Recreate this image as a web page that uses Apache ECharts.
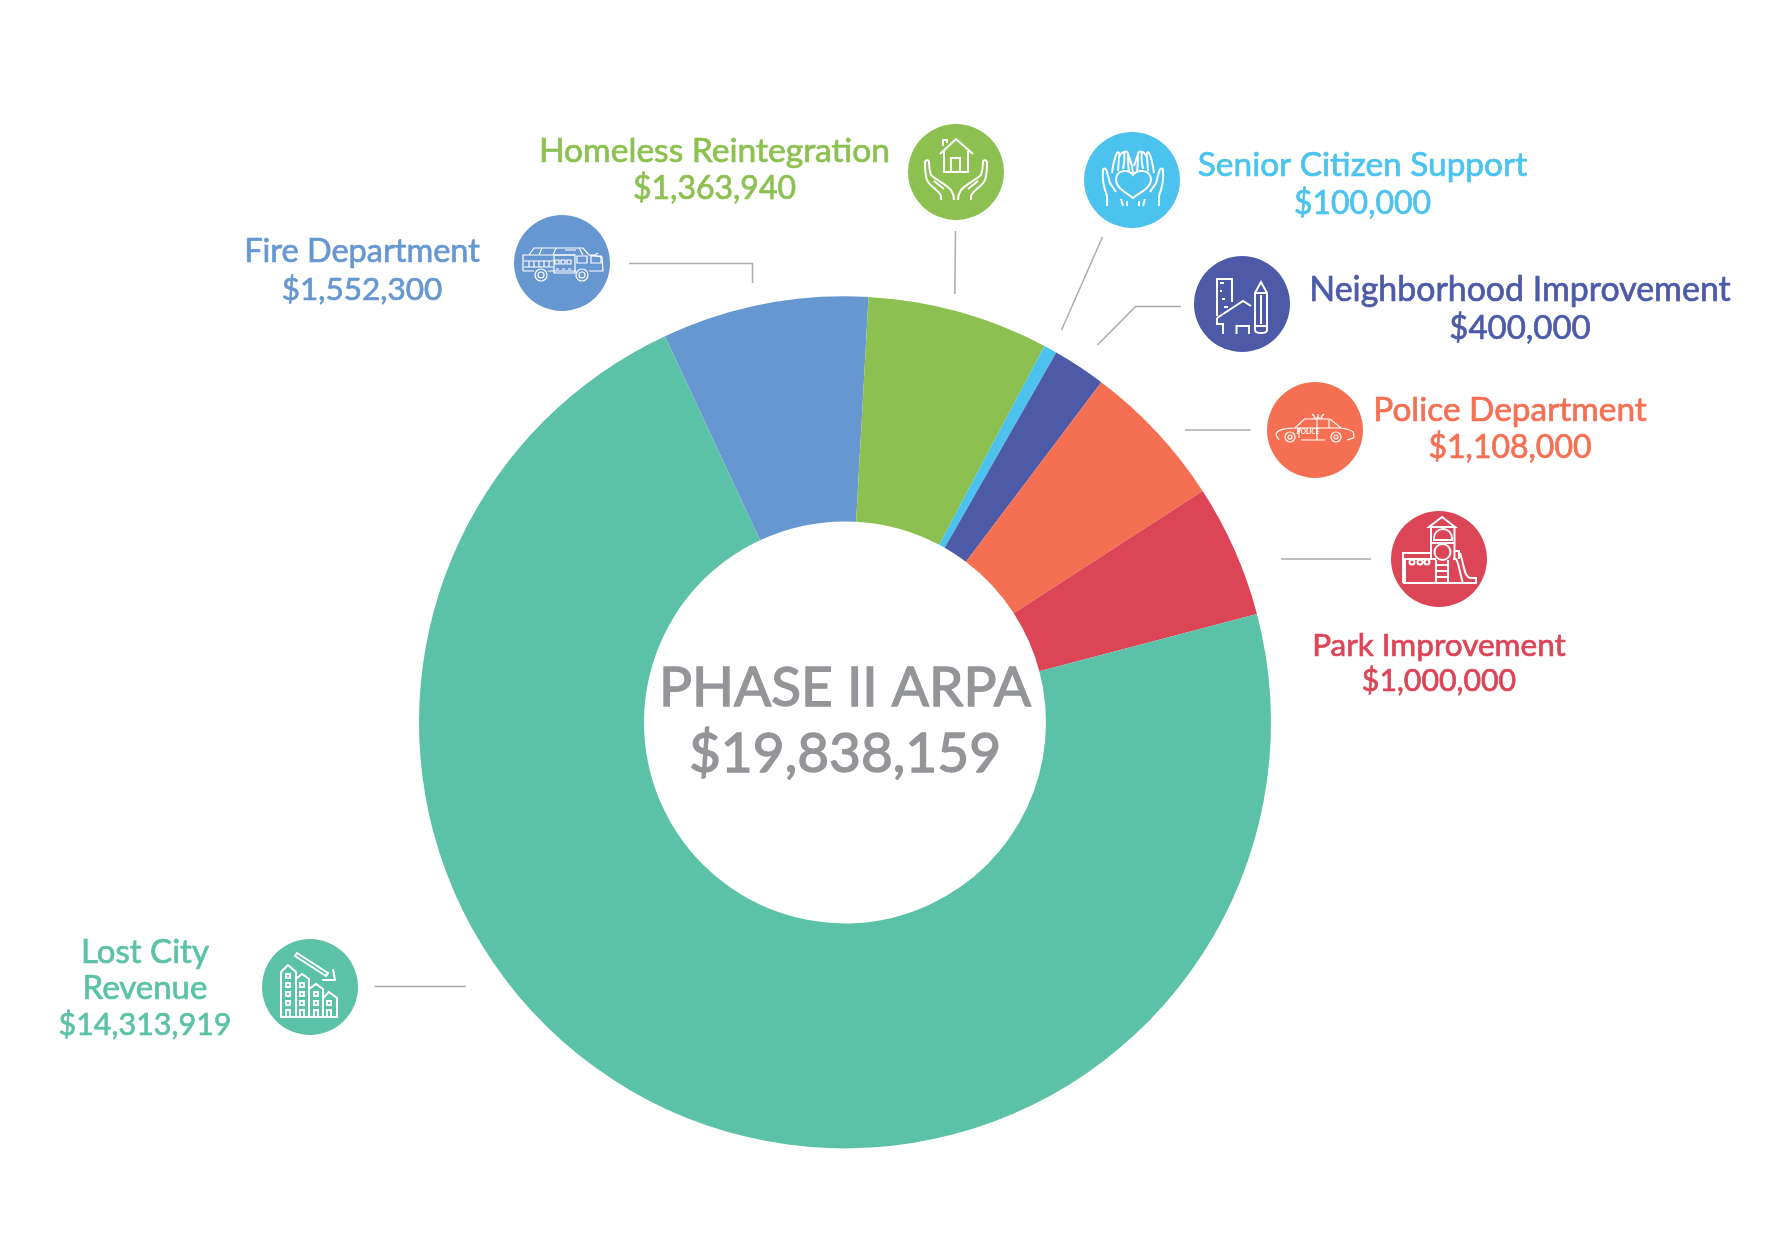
<!DOCTYPE html>
<html>
<head>
<meta charset="utf-8">
<title>Phase II ARPA</title>
<style>
    html, body { margin: 0; padding: 0; background: #fff; }
    #chart { width: 1767px; height: 1250px; }
</style>
<script src="https://cdn.jsdelivr.net/npm/echarts@6/dist/echarts.min.js"></script>
</head>
<body>
<div id="chart"></div>
<script>
// clockwise from the top of the ring
const categories = ['Fire Department', 'Homeless Reintegration', 'Senior Citizen Support', 'Neighborhood Improvement', 'Police Department', 'Park Improvement', 'Lost City Revenue']
const amounts = [1552300, 1363940, 100000, 400000, 1108000, 1000000, 14313919]
const totalTitle = 'PHASE II ARPA'
const totalAmount = 19838159

const sliceColors = ['#6797d1', '#8cc152', '#4bc3ee', '#4d5aa8', '#f56f52', '#dc4556', '#5cc2a7']
const grayText = '#939598'
const grayLine = '#a9abae'
const labelFont = 'Lato, "Open Sans", sans-serif'

// [label x, first line y, name size, amount size, line step, icon x, icon y]
const labelBoxes = [
    [362, 252, 32.5, 31.5, 37.5, 562, 263],
    [714.5, 151.5, 33.6, 32, 37.5, 956, 172],
    [1362.5, 165, 33.4, 32, 38.5, 1132, 180],
    [1520, 290, 33.9, 33, 38.5, 1242, 304],
    [1510, 410, 33.4, 32, 38, 1315, 430],
    [1439, 646, 31.5, 30.3, 35.5, 1439, 559],
    [145, 952, 33, 30.5, 36.5, 310, 987]
]

// leader lines, page pixels
const leaderPaths = [
    'M629,263.5 H752.5 V283',
    'M955.5,231 L954.8,294',
    'M1102.5,237 L1061.5,330',
    'M1181,306.5 H1135.5 L1097.5,345',
    'M1185,430 H1250.5',
    'M1281,559 H1371',
    'M374.5,986.5 H466'
]

// white line icons, pixels relative to the icon centre
const iconPaths = [
    // fire truck
    ['M-39,8 V-8 L-33,-8 L-28,-15 H21 L27,-8 H33 L36,-10 M27,-8 L40,-6 L41,8 H27 M14,8 H-8 M-8,8 H-14 M-28,8 H-39',
        'M-33,-8 H13 M-20,-15 L-23,-8 M-6,-15 L-9,-8 M3,-13 H14 M17,-15 L21,-8',
        'M15,-7 H25 V0 H15 Z M29,-7 H39 V0 H29 Z',
        'M-38,-2 H-9 M-38,4 H-9 M-33,-2 V4 M-28,-2 V4 M-23,-2 V4 M-18,-2 V4 M-13,-2 V4',
        'M-8,-8 H13 V10 H-8 Z M-7,-3 H-3 V1 H-7 Z M-1,-3 H3 V1 H-1 Z M5,-3 H9 V1 H5 Z M-6,6 H-3 M0,6 H3 M6,6 H9',
        'M-15,12 A6,6 0 1 1 -27,12 A6,6 0 1 1 -15,12 Z M-18,12 A3,3 0 1 1 -24,12 A3,3 0 1 1 -18,12 Z',
        'M26,12 A6,6 0 1 1 14,12 A6,6 0 1 1 26,12 Z M23,12 A3,3 0 1 1 17,12 A3,3 0 1 1 23,12 Z'],
    // house in two hands
    ['M-16,-18 L0,-33 L17,-18 M-12,-22 V0 H12 V-21 M-13,-26 V-32 H-9 V-29 M-5,0 V-14 H4 V0',
        'M-15,28 V24 C-17,18 -27,14 -29,8 C-31,2 -31,-6 -31,-9 C-31,-12 -27,-13 -27,-10 C-27,-4 -26,0 -25,3 C-20,8 -10,12 -5,18 C-3,21 -2,24 -2,28',
        'M-22,9 L-12,17 M15,28 V24 C17,18 27,14 29,8 C31,2 31,-6 31,-9 C31,-12 27,-13 27,-10 C27,-4 26,0 25,3 C20,8 10,12 5,18 C3,21 2,24 2,28 M22,9 L12,17'],
    // heart in two hands
    ['M1,-5 C-3,-11 -16,-11 -16,0 C-16,8 -5,13 1,18 C7,13 19,8 19,0 C19,-11 5,-11 1,-5 Z',
        'M-25,26 V16 C-28,8 -30,0 -29,-9 C-29,-13 -26,-12 -25,-8 L-22,3 L-16,12 M-9,26 L-11,19 M-5,26 L-5,21',
        'M27,26 V16 C30,8 32,0 31,-9 C31,-13 28,-12 27,-8 L24,3 L18,12 M11,26 L13,19 M7,26 L7,21',
        'M-20,-7 C-19,-14 -18,-22 -15,-27 C-13,-29 -12,-26 -13,-23 L-14,-9 M-13,-23 C-11,-27 -10,-28 -8,-28 C-7,-24 -8,-16 -9,-11 M-8,-28 C-6,-29 -4,-28 -4,-26 C-4,-20 -4,-14 -3,-9 M-4,-26 L0,-14 L1,-6',
        'M22,-7 C21,-14 20,-22 17,-27 C15,-29 14,-26 15,-23 L16,-9 M15,-23 C13,-27 12,-28 10,-28 C9,-24 10,-16 11,-11 M10,-28 C8,-29 6,-28 6,-26 C6,-20 6,-14 5,-9 M6,-26 L2,-14'],
    // building, house and pencil
    ['M-25,12 V-25 H-10 V-2 M-22,-21 H-18 M-22,-13 H-20 M-20,-5 H-17 M-18,3 H-14',
        'M-25,14 L1,-3 L9,2 M-25,14 V20 H-19 V30 M-5.5,30 V22 H7 V30',
        'M13,-11 L19,-22 L25,-11 V26 C25,30 13,30 13,26 Z M13,-11 H25 M19,-9 V20 M13,22 H25'],
    // police car
    ['M-39,5 C-39,0 -30,-2 -20,-2 L-10.5,-11 H15 L26,-2 C32,-1 38,0 38.6,3 V8 L32,10 M10,10 H-14 M-36,10 L-39,5',
        'M-20,-2 H26 M2,-11 V10 M-16,-2 V8 M14,-2 V-10',
        'M-20,7 A5,5 0 1 1 -30,7 A5,5 0 1 1 -20,7 Z M26,7 A5,5 0 1 1 16,7 A5,5 0 1 1 26,7 Z M-23,7 A2,2 0 1 1 -27,7 A2,2 0 1 1 -23,7 Z M23,7 A2,2 0 1 1 19,7 A2,2 0 1 1 23,7 Z',
        'M-2,-12 H8 M3,-12 V-16 M-3,-16 L0,-13 M9,-16 L6,-13'],
    // playground
    ['M-10,-32 L3,-42 L16,-32 Z M-8,-32 V-1 M15.5,-32 V-1 M-8,-16 H15.5',
        'M-5,-19 H13 V-21 A9,9 0 0 0 -5,-21 Z M11.5,-7 A8,8 0 1 1 -4.5,-7 A8,8 0 1 1 11.5,-7 Z',
        'M-3,1 V24 M9,1 V24 M-3,6 H9 M-3,12 H9 M-3,18 H9',
        'M-36,24 V-6 H-8 M-34,24 V0 H-3 M-36,24 H37 V19 H32 C25,19 25,5 21,-6 M16,-8 H20 V0 M14,0 H17 C20,4 21,16 24,24',
        'M-24.5,3 A2.5,2.5 0 1 1 -29.5,3 A2.5,2.5 0 1 1 -24.5,3 Z M-16.5,3 A2.5,2.5 0 1 1 -21.5,3 A2.5,2.5 0 1 1 -16.5,3 Z M-9.5,3 A2.5,2.5 0 1 1 -14.5,3 A2.5,2.5 0 1 1 -9.5,3 Z'],
    // falling city revenue
    ['M-29,30 V-15 L-22,-22 L-14,-15 V30 M-14,-8 L-8,-13 L-1,-8 V30 M-1,2 L6,-3 L13,2 V30 M13,11 L19,5 L27,11 V30 M-30,30 H28',
        'M-24,-13 H-20 V-9 H-24 Z M-24,-4 H-20 V0 H-24 Z M-24,5 H-20 V9 H-24 Z M-24,14 H-20 V18 H-24 Z M-24,23 H-20 V30 H-24 Z',
        'M-10,-4 H-6 V0 H-10 Z M-10,5 H-6 V9 H-10 Z M-10,14 H-6 V18 H-10 Z M-10,23 H-6 V30 H-10 Z',
        'M4,5 H8 V9 H4 Z M4,14 H8 V18 H4 Z M4,23 H8 V30 H4 Z M17,14 H21 V18 H17 Z M17,23 H21 V30 H17 Z',
        'M-13,-34 L-15,-31 L16,-11 L18,-14 Z M12,-7 H25 L23,-18']
]

function money(v) {
    return '$' + v.toLocaleString('en-US')
}

function renderIcon(params) {
    let i = params.dataIndex
    let box = labelBoxes[i]
    let children = [{
        type: 'circle',
        shape: {cx: 0, cy: 0, r: 48},
        style: {fill: sliceColors[i]}
    }]
    iconPaths[i].forEach(function (d) {
        children.push({
            type: 'path',
            shape: {pathData: d},
            style: {fill: 'none', stroke: '#fff', lineWidth: i === 0 || i === 4 ? 1.2 : 2}
        })
    })
    if (i === 4) {
        children.push({
            type: 'text',
            x: -7,
            y: 2,
            style: {text: 'POLICE', font: 'italic bold 7px ' + labelFont, fill: '#fff', textAlign: 'center', textVerticalAlign: 'middle'}
        })
    }
    return {
        type: 'group',
        children: [
            {type: 'path', shape: {pathData: leaderPaths[i]}, style: {fill: 'none', stroke: grayLine, lineWidth: 1.5}},
            {type: 'group', x: box[5], y: box[6], children: children}
        ]
    }
}

function textLine(text, x, y, size, color, weight) {
    return {
        type: 'text',
        x: x,
        y: y,
        style: {
            text: text,
            font: size + 'px ' + labelFont,
            fill: color,
            stroke: color,
            lineWidth: weight,
            textAlign: 'center',
            textVerticalAlign: 'middle'
        }
    }
}

let labels = []
categories.forEach(function (name, i) {
    let box = labelBoxes[i]
    let lines = name.replace('Lost City ', 'Lost City\n').split('\n')
    lines.forEach(function (line, n) {
        labels.push(textLine(line, box[0], box[1] + n * box[4], box[2], sliceColors[i], 0.7))
    })
    labels.push(textLine(money(amounts[i]), box[0], box[1] + lines.length * box[4], box[3], sliceColors[i], 0.7))
})

labels.push(textLine(totalTitle, 845, 688, 55, grayText, 1.4))
labels.push(textLine(money(totalAmount), 845, 754, 55, grayText, 1.4))

const chart = echarts.init(document.getElementById('chart'), null, {renderer: 'canvas'})
chart.setOption({
    backgroundColor: '#fff',
    animation: false,
    series: [{
        type: 'pie',
        silent: true,
        center: [845, 722.4],
        radius: [201, 426],
        startAngle: 115,
        clockwise: true,
        label: {show: false},
        labelLine: {show: false},
        data: categories.map(function (name, i) {
            return {name: name, value: amounts[i], itemStyle: {color: sliceColors[i]}}
        })
    }, {
        type: 'custom',
        silent: true,
        coordinateSystem: 'none',
        renderItem: renderIcon,
        data: categories.map(function (name, i) {
            return [i]
        })
    }],
    graphic: {elements: labels}
})
</script>
</body>
</html>
